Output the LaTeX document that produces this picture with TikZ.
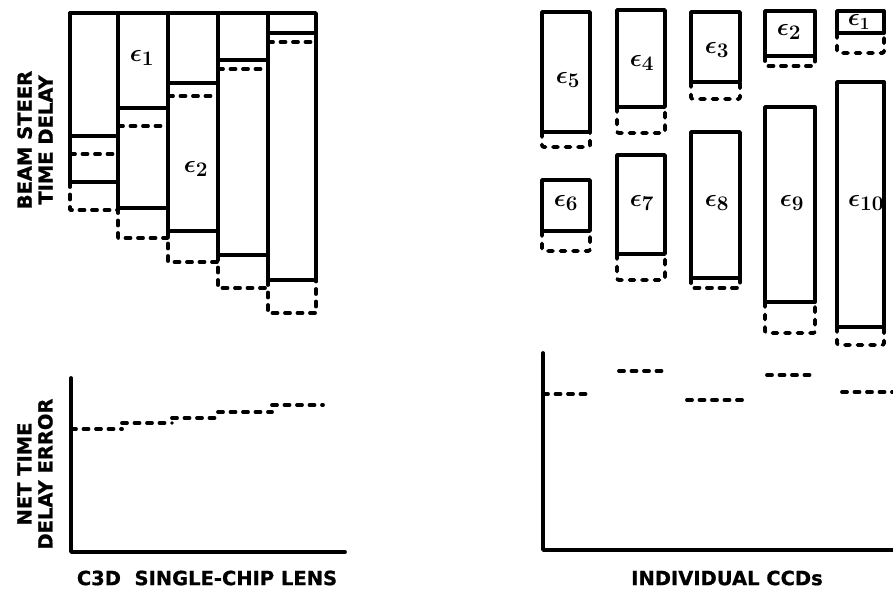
\documentclass[tikz,border=0pt]{standalone}
\usepackage{fontspec}
\setmainfont{DejaVu Sans}[BoldFeatures={FakeBold=0.8}]
\begin{document}
\begin{tikzpicture}[x=1pt,y=-1pt,
  solidln/.style={line width=3.8pt,line cap=round,line join=round},
  dashln/.style={line width=3.8pt,line cap=round,line join=round,dash pattern=on 5pt off 7.5pt},
  lbl/.style={font=\fontsize{19.5}{21}\selectfont\bfseries,align=center,inner sep=0pt},
  eps/.style={font=\fontsize{29}{29}\selectfont\boldmath,inner sep=0pt}]
\fill[white] (0,0) rectangle (893,590);
\useasboundingbox (0,0) rectangle (893,590);

% ---------- left: C3D single-chip lens ----------
\draw[solidln] (70,182) -- (70,13) -- (316,13) -- (316,280);
% columns: x0,x1,ys,yd,yb,ydb,ynext
\foreach \xa/\xb/\ys/\yd/\yb/\ydb/\yn in {
  70/118/136/154/182/210/208,
  118/168/108/126/208/238/231,
  168/218/83/96/231/262/255,
  218/268/60/69/255/288/280,
  268/316/33/42/280/313/280}{
  \draw[solidln] (\xa,13) -- (\xa,\yb);
  \draw[solidln] (\xa,\ys) -- (\xb,\ys);
  \draw[solidln] (\xa,\yb) -- (\xb,\yb);
  \draw[dashln] (\xa,\yd) -- (\xb,\yd);
  \draw[dashln] (\xa,\yb) -- (\xa,\ydb) -- (\xb,\ydb) -- (\xb,\yn);
}
\node[eps] (le1) at (142,58) {$\epsilon_1$};
\node[eps] (le2) at (196,169) {$\epsilon_2$};

\node[lbl,rotate=90] (beam) at (35,140) {BEAM STEER\\TIME DELAY};

% bottom-left graph
\coordinate (la) at (71,378);
\coordinate (lo) at (71,552);
\coordinate (lx) at (345,552);
\draw[solidln] (la) -- (lo) -- (lx);
\foreach \xa/\xb/\yy in {71/122/429,122/172/423,172/218/418,218/272/412,272/323/405}{
  \draw[dashln] (\xa,\yy) -- (\xb,\yy);
}
\node[lbl,rotate=90] (net) at (35,474) {NET TIME\\DELAY ERROR};
\node[lbl] (c3d) at (207,578) {C3D\ \ SINGLE-CHIP LENS};

% ---------- right: individual CCDs ----------
\foreach \n/\xa/\xb/\yt/\yb/\ydb/\lx/\ly/\fs in {
  5/542/590/12/132/147/568/80/29,
  4/617/665/10/107/133/642/63/29,
  3/691/740/12/82/99/717/50/29,
  2/765/815/11/56/66/789/32/29,
  1/837/884/11/33/53/859/22/23,
  6/542/590/180/231/251/566/203/29,
  7/617/665/155/254/280/642/203/29,
  8/691/740/132/278/288/717/203/29,
  9/765/815/107/302/333/792/203/29,
  10/837/884/82/327/345/866/203/29}{
  \draw[solidln] (\xa,\yt) rectangle (\xb,\yb);
  \draw[dashln,rounded corners=2pt] (\xa,\yb) -- (\xa,\ydb) -- (\xb,\ydb) -- (\xb,\yb);
  \node[eps,font=\fontsize{\fs}{\fs}\selectfont\boldmath] (re\n) at (\lx,\ly) {$\epsilon_{\n}$};
}

% bottom-right graph
\coordinate (ra) at (543,353);
\coordinate (ro) at (543,550);
\coordinate (rx) at (893,550);
\draw[solidln] (ra) -- (ro) -- (rx);
\foreach \xa/\xb/\yy in {543/592/394,619/668/371,687/742/400,767/817/375,842/893/392}{
  \draw[dashln] (\xa,\yy) -- (\xb,\yy);
}
\node[lbl] (ccd) at (727,578) {INDIVIDUAL CCDs};
\end{tikzpicture}
\end{document}
